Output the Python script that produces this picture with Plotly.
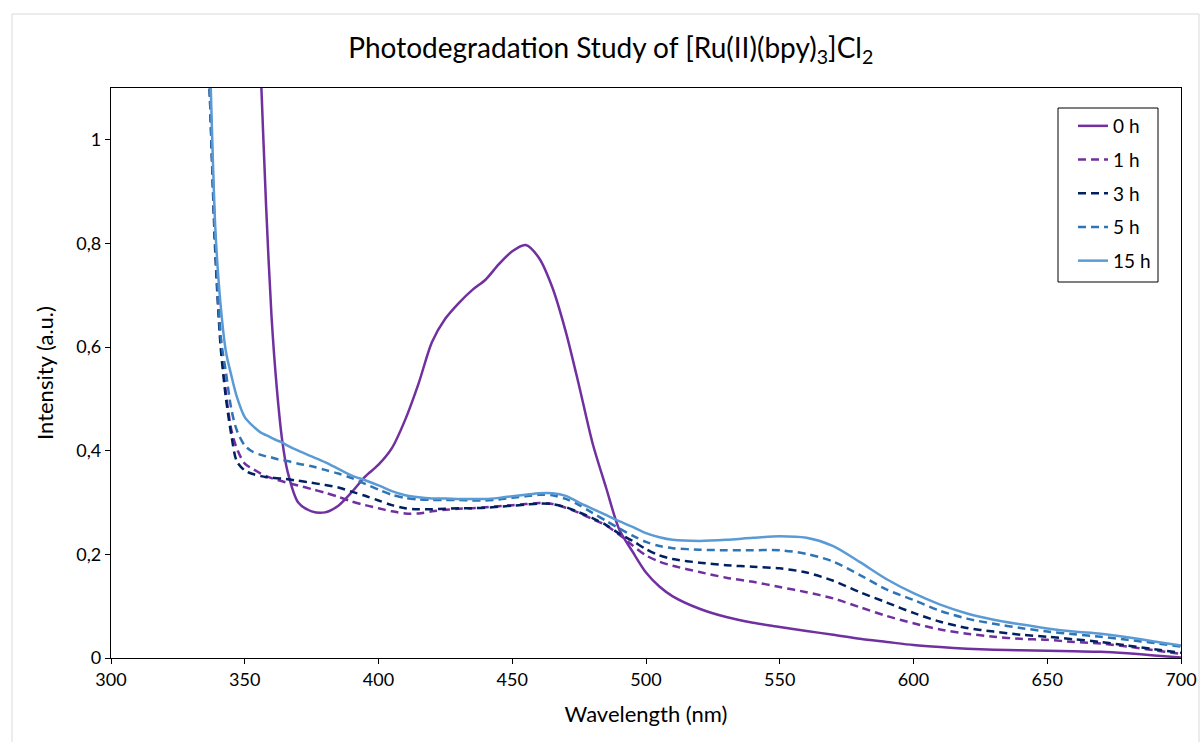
import plotly.graph_objects as go

wavelength = [335, 337, 339, 341, 343, 345, 347, 350, 353, 356, 358, 360, 362, 364, 366, 370, 375, 380,
              385, 390, 395, 400, 405, 410, 415, 420, 425, 430, 435, 440, 445, 450, 455, 460, 465, 470,
              475, 480, 485, 490, 495, 500, 505, 510, 520, 530, 540, 550, 560, 570, 580, 590, 600, 610,
              620, 630, 640, 650, 660, 670, 680, 690, 700]

h0 = [None, None, None, None, None, None, None, None, 1.55, 1.13, 0.87, 0.66, 0.52, 0.42, 0.36, 0.30, 0.283, 0.281,
      0.294, 0.32, 0.35, 0.373, 0.405, 0.46, 0.53, 0.61, 0.655, 0.685, 0.71, 0.73, 0.76, 0.785, 0.797, 0.772, 0.715, 0.63,
      0.525, 0.415, 0.33, 0.248, 0.205, 0.165, 0.138, 0.119, 0.095, 0.079, 0.068, 0.060, 0.052, 0.045, 0.037, 0.031, 0.025, 0.021,
      0.018, 0.016, 0.015, 0.014, 0.013, 0.012, 0.009, 0.005, 0.001]

h1 = [1.4, 1.1, 0.80, 0.62, 0.51, 0.44, 0.405, 0.375, 0.365, 0.356, 0.351, 0.347, 0.344, 0.341, 0.338, 0.333, 0.326, 0.319,
      0.311, 0.302, 0.295, 0.289, 0.283, 0.279, 0.279, 0.283, 0.286, 0.288, 0.289, 0.291, 0.293, 0.295, 0.297, 0.299, 0.297, 0.29,
      0.28, 0.268, 0.256, 0.238, 0.217, 0.198, 0.186, 0.178, 0.166, 0.155, 0.147, 0.137, 0.127, 0.115, 0.098, 0.081, 0.067, 0.055,
      0.047, 0.041, 0.037, 0.035, 0.031, 0.028, 0.022, 0.015, 0.008]

h3 = [1.4, 1.08, 0.78, 0.60, 0.50, 0.43, 0.38, 0.362, 0.355, 0.351, 0.349, 0.348, 0.347, 0.346, 0.345, 0.342, 0.338, 0.334,
      0.329, 0.321, 0.313, 0.304, 0.295, 0.289, 0.287, 0.287, 0.288, 0.289, 0.289, 0.29, 0.292, 0.294, 0.296, 0.298, 0.297, 0.291,
      0.281, 0.27, 0.257, 0.24, 0.226, 0.21, 0.198, 0.191, 0.184, 0.179, 0.176, 0.173, 0.165, 0.149, 0.127, 0.107, 0.087, 0.07,
      0.058, 0.051, 0.045, 0.041, 0.036, 0.031, 0.024, 0.017, 0.01]

h5 = [1.4, 1.08, 0.80, 0.62, 0.55, 0.48, 0.44, 0.41, 0.398, 0.392, 0.389, 0.387, 0.384, 0.382, 0.38, 0.375, 0.37, 0.363,
      0.356, 0.347, 0.336, 0.325, 0.315, 0.309, 0.306, 0.305, 0.305, 0.305, 0.304, 0.304, 0.306, 0.309, 0.312, 0.315, 0.314, 0.307,
      0.295, 0.28, 0.265, 0.25, 0.236, 0.224, 0.216, 0.212, 0.209, 0.208, 0.208, 0.208, 0.201, 0.186, 0.16, 0.132, 0.112, 0.091,
      0.076, 0.066, 0.058, 0.051, 0.046, 0.041, 0.035, 0.029, 0.022]

h15 = [1.45, 1.15, 0.83, 0.68, 0.59, 0.545, 0.505, 0.465, 0.448, 0.435, 0.43, 0.425, 0.42, 0.416, 0.41, 0.40, 0.389, 0.378,
       0.365, 0.352, 0.343, 0.333, 0.322, 0.314, 0.31, 0.308, 0.308, 0.307, 0.307, 0.307, 0.309, 0.312, 0.315, 0.318, 0.318, 0.313,
       0.30, 0.288, 0.276, 0.264, 0.253, 0.241, 0.233, 0.228, 0.226, 0.228, 0.232, 0.235, 0.232, 0.216, 0.185, 0.152, 0.125, 0.103,
       0.086, 0.074, 0.065, 0.057, 0.051, 0.047, 0.040, 0.032, 0.024]

series_names = ["0 h", "1 h", "3 h", "5 h", "15 h"]
series_values = [h0, h1, h3, h5, h15]
series_colors = ["#7030A0", "#7030A0", "#002060", "#2E75B6", "#5B9BD5"]
series_dash = ["solid", "8px,5px", "8px,5px", "8px,5px", "solid"]

x_ticks = [300, 350, 400, 450, 500, 550, 600, 650, 700]
y_ticks = [0, 0.2, 0.4, 0.6, 0.8, 1]
y_tick_text = ["0", "0,2", "0,4", "0,6", "0,8", "1"]

FONT = "Lato, Carlito, Calibri, sans-serif"

fig = go.Figure()
for name, vals, col, dash in zip(series_names, series_values, series_colors, series_dash):
    fig.add_trace(go.Scatter(
        x=wavelength, y=vals, name=name, mode="lines", legendgroup=name,
        line=dict(color=col, width=2.5, dash=dash, shape="spline", smoothing=0.8),
        connectgaps=False,
    ))

L, R, T, B = 111, 19, 88, 84
PW = 1200 - L - R
PH = 742 - T - B


def px_x(p):
    return (p - L) / PW


def px_y(p):
    return (742 - B - p) / PH


fig.update_layout(
    width=1200, height=742,
    paper_bgcolor="white", plot_bgcolor="white",
    margin=dict(l=L, r=R, t=T, b=B, autoexpand=False),
    font=dict(family=FONT, color="#000000", size=18),
    title=dict(text="Photodegradation Study of [Ru(II)(bpy)<sub>3</sub>]Cl<sub>2</sub>",
               x=0.509, xanchor="center", y=1 - 48 / 742, yanchor="middle", yref="container",
               font=dict(family=FONT, size=28, color="#000000")),
    xaxis=dict(range=[300, 700], tickvals=x_ticks, showgrid=False, zeroline=False, automargin=False,
               showline=True, linecolor="#000000", linewidth=1.3, mirror=True,
               ticks="outside", ticklen=5, tickcolor="#000000",
               title=dict(text="Wavelength (nm)", font=dict(size=22), standoff=17),
               tickfont=dict(size=18)),
    yaxis=dict(range=[0, 1.1], tickvals=y_ticks, ticktext=y_tick_text, showgrid=False, zeroline=False,
               automargin=False,
               showline=True, linecolor="#000000", linewidth=1.3, mirror=True,
               ticks="outside", ticklen=5, tickcolor="#000000",
               title=dict(text="Intensity (a.u.)", font=dict(size=22), standoff=16),
               tickfont=dict(size=18)),
    legend=dict(x=px_x(1073), y=px_y(107), xanchor="left", yanchor="top",
                bgcolor="rgba(0,0,0,0)", borderwidth=0,
                font=dict(size=19), tracegroupgap=6, itemwidth=30),
    showlegend=True,
)

# legend frame (Excel-style, wider than plotly's default box)
fig.add_shape(type="rect", xref="paper", yref="paper",
              x0=px_x(1058), x1=px_x(1158), y0=px_y(282), y1=px_y(108),
              line=dict(color="#000000", width=1), fillcolor="white", layer="below")

# light outer chart border
fig.add_shape(type="rect", xref="paper", yref="paper",
              x0=px_x(12), x1=px_x(1199), y0=px_y(760), y1=px_y(14),
              line=dict(color="#D9D9D9", width=1), layer="below")

fig.write_html("out.html")
